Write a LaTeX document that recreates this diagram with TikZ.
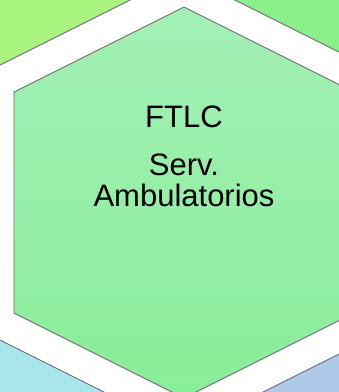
\documentclass[tikz,border=0pt]{standalone}
\usepackage{fontspec}
\setmainfont{Liberation Sans}
\definecolor{tlgreen}{RGB}{169,245,127}
\definecolor{trgreen}{RGB}{138,240,138}
\definecolor{blcyan}{RGB}{168,230,236}
\definecolor{brblue}{RGB}{174,200,232}
\definecolor{hextop}{RGB}{164,240,182}
\definecolor{hexbot}{RGB}{136,238,152}
\definecolor{edgegray}{RGB}{110,110,110}
\begin{document}
\begin{tikzpicture}[x=1pt,y=-1pt,
  cell/.style={draw=edgegray,line width=0.9pt,line join=miter},
  lbl/.style={anchor=base,font=\fontsize{31}{31}\selectfont,text=black,inner sep=0pt}]
\useasboundingbox (0,0) rectangle (339,392);
\fill[white] (0,0) rectangle (339,392);
\clip (0,0) rectangle (339,392);
% neighbouring cells
\path[cell,fill=tlgreen] (-10,70) -- (140,-5) -- (-10,-5) -- cycle;
\path[cell,fill=trgreen] (225,-5) -- (350,57.5) -- (350,-5) -- cycle;
\path[cell,fill=blcyan] (-10,335) -- (114,397) -- (-10,397) -- cycle;
\path[cell,fill=brblue] (253,397) -- (350,348.5) -- (350,397) -- cycle;
% central cell
\path[cell,top color=hextop,bottom color=hexbot]
  (184,7) -- (354,92) -- (354,313) -- (184,398) -- (14,313) -- (14,92) -- cycle;
\node[lbl] (t1) at (184,127) {FTLC};
\node[lbl] (t2) at (184,175) {Serv.};
\node[lbl] (t3) at (184,206) {Ambulatorios};
\end{tikzpicture}
\end{document}
